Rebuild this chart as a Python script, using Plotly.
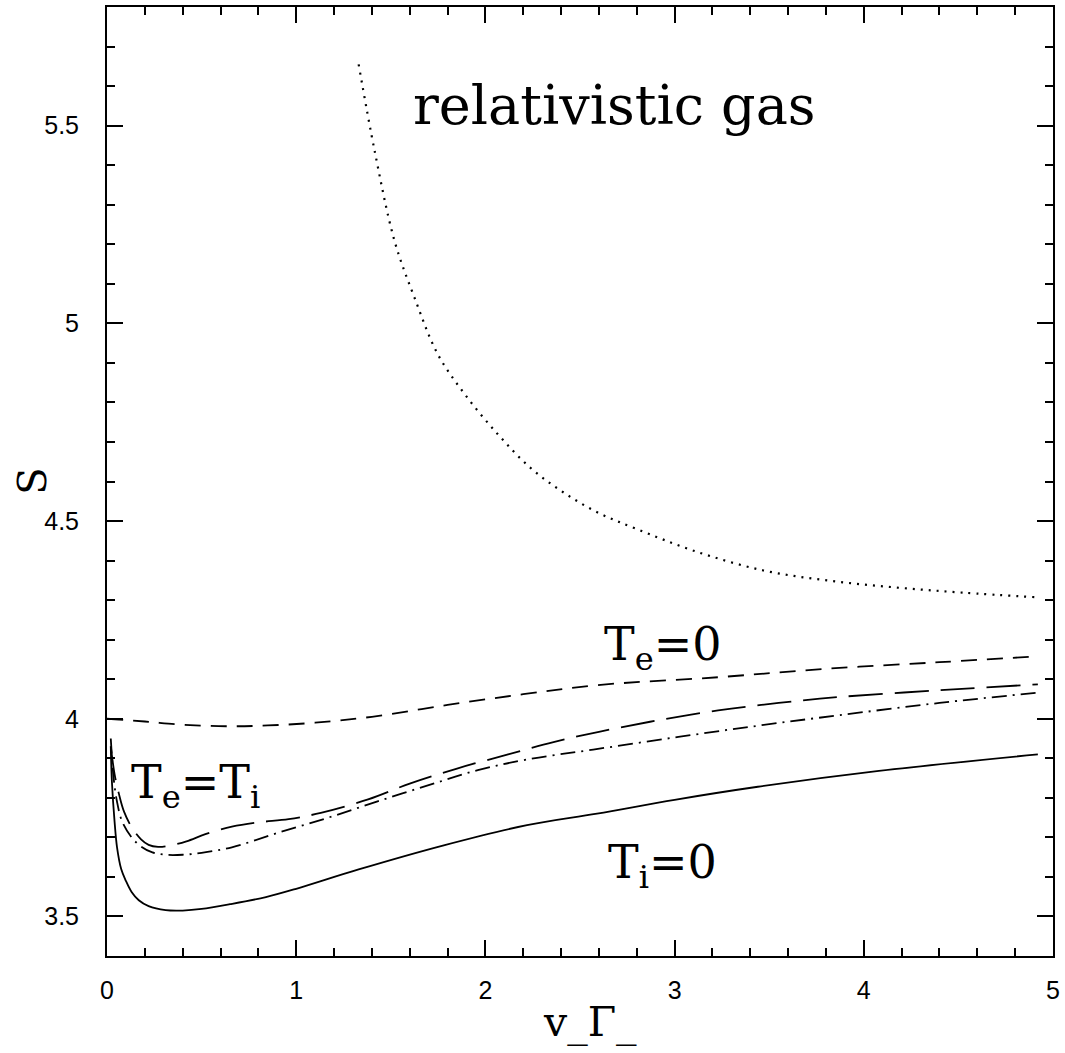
import plotly.graph_objects as go

# ---- data ----
rel_x = [1.33, 1.415, 1.52, 1.626, 1.747, 1.889, 2.063, 2.237, 2.414, 2.6, 2.8, 3.1, 3.47, 3.82, 4.17, 4.52, 4.92]
rel_y = [5.655, 5.435, 5.208, 5.064, 4.923, 4.822, 4.721, 4.635, 4.572, 4.52, 4.48, 4.425, 4.375, 4.349, 4.332, 4.319, 4.307]

te0_x = [0.0, 0.2, 0.4, 0.63, 0.85, 1.1, 1.4, 1.8, 2.2, 2.59, 3.23, 3.82, 4.4, 4.92]
te0_y = [4.0, 3.993, 3.985, 3.981, 3.983, 3.99, 4.005, 4.035, 4.062, 4.085, 4.105, 4.127, 4.143, 4.158]

ldash_x = [0.02, 0.04, 0.063, 0.09, 0.13, 0.18, 0.22, 0.27, 0.33, 0.42, 0.52, 0.66, 0.8, 0.96, 1.13,
           1.38, 1.6, 1.85, 2.12, 2.36, 2.6, 2.9, 3.23, 3.55, 3.87, 4.4, 4.92]
ldash_y = [3.93, 3.86, 3.81, 3.765, 3.726, 3.695, 3.681, 3.676, 3.679, 3.69, 3.708, 3.727, 3.738, 3.746, 3.762,
           3.796, 3.836, 3.874, 3.910, 3.941, 3.967, 3.995, 4.021, 4.04, 4.055, 4.072, 4.087]

dd_x = [0.02, 0.035, 0.053, 0.08, 0.13, 0.18, 0.24, 0.31, 0.4, 0.5, 0.66, 0.9, 1.17, 1.43, 1.7,
        1.96, 2.22, 2.57, 3.02, 3.45, 3.87, 4.4, 4.92]
dd_y = [3.95, 3.85, 3.79, 3.74, 3.70, 3.677, 3.662, 3.656, 3.656, 3.661, 3.675, 3.711, 3.750, 3.791, 3.832,
        3.870, 3.897, 3.922, 3.954, 3.983, 4.009, 4.04, 4.066]

ti0_x = [0.02, 0.026, 0.04, 0.053, 0.075, 0.1, 0.13, 0.168, 0.22, 0.31, 0.4, 0.5, 0.65, 0.84, 1.0,
         1.33, 1.78, 2.22, 2.59, 3.0, 3.44, 4.08, 4.92]
ti0_y = [3.93, 3.84, 3.74, 3.675, 3.62, 3.59, 3.562, 3.541, 3.526, 3.516, 3.515, 3.519, 3.531, 3.549, 3.57,
         3.619, 3.680, 3.731, 3.760, 3.795, 3.828, 3.868, 3.910]

x_ticks = [0, 1, 2, 3, 4, 5]
x_ticktext = ["0", "1", "2", "3", "4", "5"]
y_ticks = [3.5, 4, 4.5, 5, 5.5]
y_ticktext = ["3.5", "4", "4.5", "5", "5.5"]

labels = ["relativistic gas", "T<sub>e</sub>=0", "T<sub>e</sub>=T<sub>i</sub>", "T<sub>i</sub>=0"]
label_x = [2.68, 2.94, 0.47, 2.937]
label_y = [5.55, 4.18, 3.83, 3.63]
label_size = [54, 46, 46, 46]

# ---- figure ----
fig = go.Figure()
lw = 1.8
fig.add_trace(go.Scatter(x=rel_x, y=rel_y, mode="lines", line=dict(color="black", width=2.2, dash="2px,6px", shape="spline")))
fig.add_trace(go.Scatter(x=te0_x, y=te0_y, mode="lines", line=dict(color="black", width=lw, dash="16px,10px", shape="spline")))
fig.add_trace(go.Scatter(x=ldash_x, y=ldash_y, mode="lines", line=dict(color="black", width=lw, dash="34px,12px", shape="spline")))
fig.add_trace(go.Scatter(x=dd_x, y=dd_y, mode="lines", line=dict(color="black", width=lw, dash="15px,6px,2px,6px", shape="spline")))
fig.add_trace(go.Scatter(x=ti0_x, y=ti0_y, mode="lines", line=dict(color="black", width=lw, shape="spline")))

for t, xx, yy, s in zip(labels, label_x, label_y, label_size):
    fig.add_annotation(x=xx, y=yy, xref="x", yref="y", text=t, showarrow=False,
                       font=dict(family="DejaVu Serif", size=s, color="black"),
                       xanchor="center", yanchor="middle")

# axis titles
fig.add_annotation(x=0.511, y=-0.07, xref="paper", yref="paper", text="v_Γ_", showarrow=False,
                   font=dict(family="DejaVu Serif", size=41, color="black"), xanchor="center", yanchor="middle")
fig.add_annotation(x=-0.08, y=0.5, xref="paper", yref="paper", text="S", showarrow=False, textangle=-90,
                   font=dict(family="DejaVu Serif", size=40, color="black"), xanchor="center", yanchor="middle")

axis_common = dict(showline=True, linecolor="black", linewidth=2, mirror="allticks",
                   ticks="inside", ticklen=16, tickwidth=2, tickcolor="black",
                   showgrid=False, zeroline=False,
                   tickfont=dict(family="Liberation Sans, Arial", size=25, color="black"))

fig.update_xaxes(range=[0, 5], tickvals=x_ticks, ticktext=x_ticktext, ticklabelstandoff=11,
                 minor=dict(dtick=0.2, ticks="inside", ticklen=8, tickwidth=2, tickcolor="black", showgrid=False),
                 **axis_common)
fig.update_yaxes(range=[3.4, 5.8], tickvals=y_ticks, ticktext=y_ticktext, ticklabelstandoff=21,
                 minor=dict(dtick=0.1, ticks="inside", ticklen=8, tickwidth=2, tickcolor="black", showgrid=False),
                 **axis_common)

fig.update_layout(width=1065, height=1053, margin=dict(l=107, r=7, t=5, b=97),
                  paper_bgcolor="white", plot_bgcolor="white", showlegend=False)

fig.write_html("out.html", config={"displayModeBar": False},
               post_script="document.body.style.margin='0';document.body.style.overflow='hidden';")
